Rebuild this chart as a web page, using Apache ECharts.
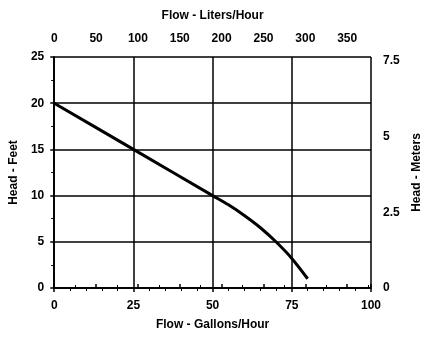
<!DOCTYPE html>
<html>
<head>
<meta charset="utf-8">
<script src="https://cdn.jsdelivr.net/npm/echarts@6/dist/echarts.min.js"></script>
<style>
  html, body { margin: 0; padding: 0; background: #fff; }
  #chart { width: 438px; height: 354px; }
</style>
</head>
<body>
<div id="chart"></div>
<script>
// pump curve
var flowGph = [0, 25, 50, 55, 60, 65, 70, 75, 80];
var headFt = [20, 15, 10, 9.0, 7.85, 6.55, 5.0, 3.2, 1.0];

var GAL_TO_L = 3.785;
var FT_TO_M = 0.3048;

var font = {
  fontFamily: 'Liberation Sans, Arial, sans-serif',
  fontWeight: 'bold',
  fontSize: 12,
  color: '#000'
};

var chart = echarts.init(document.getElementById('chart'), null, { renderer: 'canvas' });

var option = {
  animation: false,
  grid: {
    left: 53,
    right: 67,
    top: 57,
    bottom: 66
  },
  xAxis: [
    {
      // bottom: gallons
      type: 'value',
      position: 'bottom',
      min: 0,
      max: 100,
      interval: 25,
      name: 'Flow - Gallons/Hour',
      nameLocation: 'middle',
      nameGap: 31,
      nameTextStyle: font,
      axisLine: { show: true, lineStyle: { color: '#000', width: 1.5 } },
      axisTick: { show: true, length: 4, lineStyle: { color: '#000', width: 1.5 } },
      minorTick: { show: true, splitNumber: 5, length: 3, lineStyle: { color: '#000', width: 1 } },
      axisLabel: Object.assign({ margin: 12 }, font),
      splitLine: { show: true, lineStyle: { color: '#000', width: 1.5 } }
    },
    {
      // top: liters, same range as 0-100 gal
      type: 'value',
      position: 'top',
      min: 0,
      max: 100 * GAL_TO_L,
      interval: 50,
      name: 'Flow - Liters/Hour',
      nameLocation: 'middle',
      nameGap: 35,
      nameTextStyle: font,
      axisLine: { show: true, lineStyle: { color: '#000', width: 1.5 } },
      axisTick: { show: true, length: 4, lineStyle: { color: '#000', width: 1.5 } },
      minorTick: { show: true, splitNumber: 2, length: 3, lineStyle: { color: '#000', width: 1 } },
      axisLabel: Object.assign({ margin: 12, showMaxLabel: false }, font),
      splitLine: { show: false }
    }
  ],
  yAxis: [
    {
      // left: feet
      type: 'value',
      position: 'left',
      min: 0,
      max: 25,
      interval: 5,
      name: 'Head - Feet',
      nameLocation: 'middle',
      nameGap: 26,
      nameRotate: 90,
      nameTextStyle: font,
      axisLine: { show: true, lineStyle: { color: '#000', width: 1.5 } },
      axisTick: { show: true, length: 4, lineStyle: { color: '#000', width: 1.5 } },
      minorTick: { show: true, splitNumber: 2, length: 3, lineStyle: { color: '#000', width: 1 } },
      axisLabel: Object.assign({ margin: 10 }, font),
      splitLine: { show: true, lineStyle: { color: '#000', width: 1.5 } }
    },
    {
      // right: meters, same range as 0-25 ft
      type: 'value',
      position: 'right',
      min: 0,
      max: 25 * FT_TO_M,
      interval: 2.5,
      name: 'Head - Meters',
      nameLocation: 'middle',
      nameGap: 40,
      nameRotate: 90,
      nameTextStyle: font,
      axisLine: { show: true, lineStyle: { color: '#000', width: 1.5 } },
      axisTick: { show: false },
      axisLabel: Object.assign({ margin: 12, showMaxLabel: false }, font),
      splitLine: { show: false }
    }
  ],
  series: [
    {
      type: 'line',
      xAxisIndex: 0,
      yAxisIndex: 0,
      smooth: 0.3,
      symbol: 'none',
      lineStyle: { color: '#000', width: 3 },
      data: flowGph.map(function (x, i) { return [x, headFt[i]]; })
    }
  ]
};

chart.setOption(option);
</script>
</body>
</html>
